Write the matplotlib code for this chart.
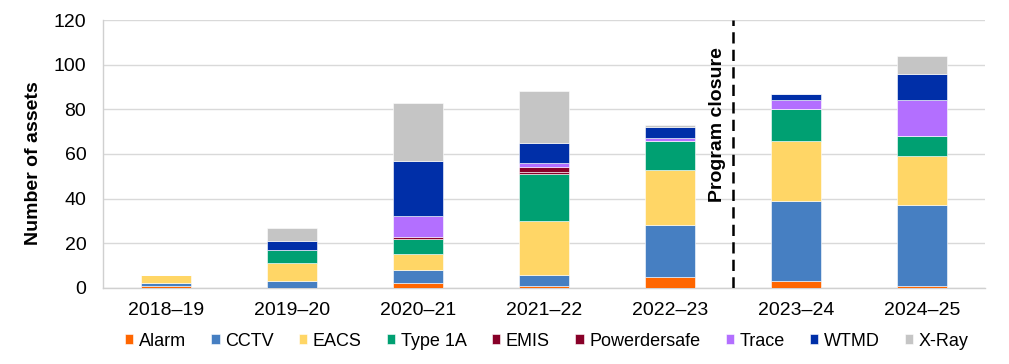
import numpy as np
from matplotlib import pyplot as plt

plt.rcParams['font.family'] = ['Liberation Sans', 'DejaVu Sans']

years = ["2018–19", "2019–20", "2020–21", "2021–22", "2022–23", "2023–24", "2024–25"]

alarm = [1, 0, 2, 1, 5, 3, 1]
cctv = [1, 3, 6, 5, 23, 36, 36]
eacs = [4, 8, 7, 24, 25, 27, 22]
type_1a = [0, 6, 7, 21, 13, 14, 9]
emis = [0, 0, 0, 1, 0, 0, 0]
powerdersafe = [0, 0, 1, 2, 0, 0, 0]
trace = [0, 0, 9, 2, 1, 4, 16]
wtmd = [0, 4, 25, 9, 5, 3, 12]
xray = [0, 6, 26, 23, 1, 0, 8]

series = [
    ("Alarm", alarm, "#FF6600"),
    ("CCTV", cctv, "#467FC2"),
    ("EACS", eacs, "#FFD666"),
    ("Type 1A", type_1a, "#00A072"),
    ("EMIS", emis, "#880028"),
    ("Powerdersafe", powerdersafe, "#880028"),
    ("Trace", trace, "#B36FFF"),
    ("WTMD", wtmd, "#002FA8"),
    ("X-Ray", xray, "#C5C5C5"),
]

fig = plt.figure(figsize=(10.09, 3.64), dpi=100)
ax = fig.add_axes([0.102, 0.209, 0.874, 0.736])

x = np.arange(len(years))
bottom = np.zeros(len(years))
for name, vals, col in series:
    ax.bar(x, vals, 0.4, bottom=bottom, color=col, label=name,
           edgecolor="white", linewidth=0.4, zorder=3)
    bottom += np.array(vals)

# program closure marker
ax.axvline(4.5, color="black", linestyle=(0, (4.5, 2.5)), linewidth=1.8, zorder=4)
ax.text(4.38, 73, "Program closure", rotation=90, ha="center", va="center",
        fontsize=14, fontweight="bold")

ax.set_xlim(-0.5, len(years) - 0.5)
ax.set_ylim(0, 120)
ax.set_yticks(range(0, 121, 20))
ax.set_xticks(x)
ax.set_xticklabels(years)
ax.tick_params(axis="x", length=0, labelsize=14, pad=10)
ax.tick_params(axis="y", length=0, labelsize=14, pad=12)
ax.grid(axis="y", color="#D9D9D9", linewidth=1, zorder=0)
for s in ["top", "right"]:
    ax.spines[s].set_visible(False)
for s in ["left", "bottom"]:
    ax.spines[s].set_color("#D0D0D0")
    ax.spines[s].set_linewidth(1)
ax.set_ylabel("Number of assets", fontsize=14, fontweight="bold")
ax.yaxis.set_label_coords(-0.069, 0.466)

fig.legend(*ax.get_legend_handles_labels(), loc="center", bbox_to_anchor=(0.542, 0.063),
           ncol=9, frameon=False, fontsize=13, handlelength=0.45, handleheight=0.45,
           handletextpad=0.3, columnspacing=1.42, borderaxespad=0)

fig.savefig("out.png", dpi=100)
